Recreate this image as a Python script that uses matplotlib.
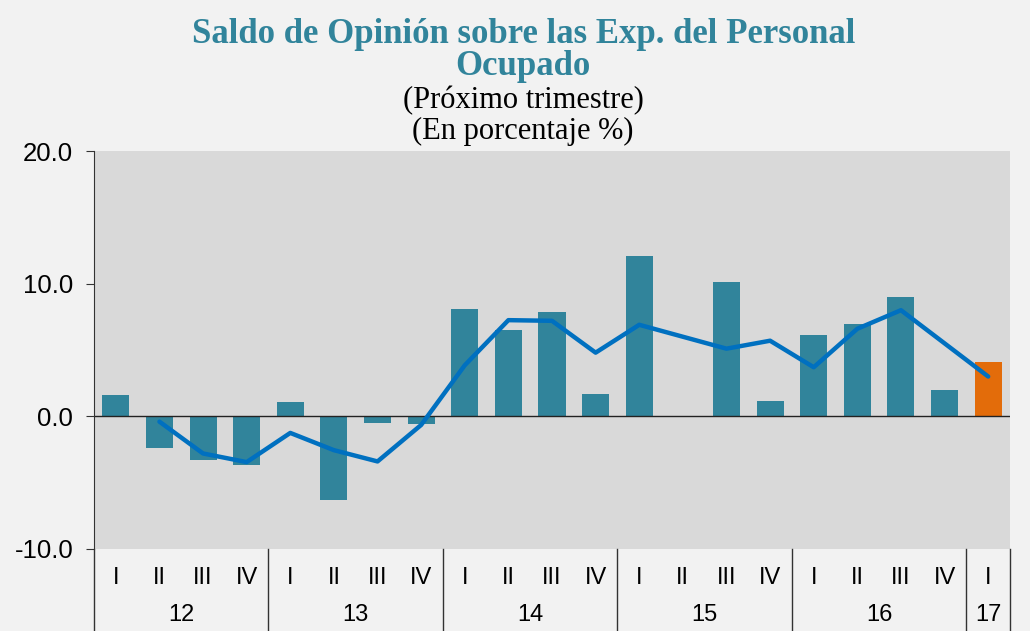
import numpy as np
import matplotlib.pyplot as plt
from matplotlib.transforms import blended_transform_factory

# Data
quarters = ["I", "II", "III", "IV", "I", "II", "III", "IV", "I", "II", "III", "IV",
            "I", "II", "III", "IV", "I", "II", "III", "IV", "I"]
years = ["12", "13", "14", "15", "16", "17"]
year_sizes = [4, 4, 4, 4, 4, 1]
saldo = [1.6, -2.4, -3.3, -3.7, 1.05, -6.3, -0.5, -0.6,
         8.1, 6.5, 7.9, 1.65, 12.05, 0.0, 10.15, 1.15,
         6.1, 6.95, 9.0, 1.95, 4.1]
promedio = [np.nan, -0.4, -2.8, -3.45, -1.25, -2.55, -3.4, -0.65,
            3.85, 7.25, 7.2, 4.8, 6.9, 6.0, 5.1, 5.7,
            3.7, 6.6, 8.0, 5.5, 3.0]

bar_color = "#31849b"
last_color = "#e36c0a"
line_color = "#0070c0"

fig = plt.figure(figsize=(10.3, 6.31), dpi=100, facecolor="#f2f2f2")
ax = fig.add_axes([94 / 1030, (631 - 549) / 631, (1010 - 94) / 1030, (549 - 151) / 631])
ax.set_facecolor("#d9d9d9")

x = np.arange(len(saldo))
colors = [bar_color] * (len(saldo) - 1) + [last_color]
ax.bar(x, saldo, width=0.62, color=colors, zorder=2)
ax.plot(x, promedio, color=line_color, linewidth=3.2, zorder=3, solid_capstyle="round")
ax.axhline(0, color="#222222", linewidth=1, zorder=2.5)

ax.set_xlim(-0.5, len(saldo) - 0.5)
ax.set_ylim(-10, 20)
ax.set_yticks([-10, 0, 10, 20])
ax.set_yticklabels([f"{v:.1f}" for v in [-10, 0, 10, 20]],
                   fontsize=18.5, family="Liberation Sans")
ax.tick_params(axis="y", direction="out", length=6, color="#333333", pad=9)
ax.set_xticks([])
for s in ["top", "right", "bottom"]:
    ax.spines[s].set_visible(False)
ax.spines["left"].set_color("#333333")

# two-level category axis
trans = blended_transform_factory(ax.transData, ax.transAxes)
bottom = -(631 - 549) / 398
for i, q in enumerate(quarters):
    ax.text(i, -0.072, q, transform=trans, ha="center", va="center",
            fontsize=17, family="Liberation Sans")
start = 0
for y, n in zip(years, year_sizes):
    ax.text(start + (n - 1) / 2, -0.167, y, transform=trans, ha="center",
            va="center", fontsize=17, family="Liberation Sans")
    start += n
    ax.plot([start - 0.5, start - 0.5], [0, bottom], transform=trans,
            color="#333333", linewidth=1, clip_on=False)
ax.plot([-0.5, -0.5], [0, bottom], transform=trans, color="#333333",
        linewidth=1, clip_on=False)

# titles
fig.text(0.508, 0.946, "Saldo de Opinión sobre las Exp. del Personal",
         ha="center", va="center", fontsize=25, fontweight="bold",
         color="#31849b", family="Liberation Serif")
fig.text(0.508, 0.894, "Ocupado", ha="center", va="center", fontsize=25,
         fontweight="bold", color="#31849b", family="Liberation Serif")
fig.text(0.508, 0.84, "(Próximo trimestre)", ha="center", va="center",
         fontsize=22, family="Liberation Serif")
fig.text(0.508, 0.792, "(En porcentaje %)", ha="center", va="center",
         fontsize=22, family="Liberation Serif")

fig.savefig("out.png", dpi=100, facecolor=fig.get_facecolor())
